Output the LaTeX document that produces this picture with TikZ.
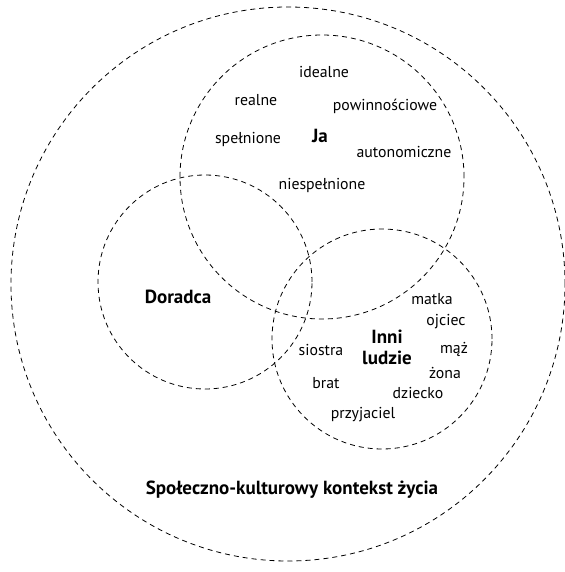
\documentclass[tikz,border=0pt]{standalone}
\usepackage{fontspec}
\setmainfont{PT Sans}
\usepackage{tikz}
\usetikzlibrary{positioning}

\tikzset{
  ring/.style={dashed, dash pattern=on 5pt off 4pt, line width=0.8pt},
  word/.style={font=\fontsize{15.8}{18}\selectfont, inner sep=0pt},
  title/.style={font=\fontsize{19}{21}\selectfont\bfseries, inner sep=0pt, align=center}
}

\begin{document}
\begin{tikzpicture}[x=1pt, y=-1pt]
  \useasboundingbox (0,0) rectangle (564,572);
  % circles
  \draw [ring] (288,284) circle [radius=277pt];
  \draw [ring] (322,177) circle [radius=142pt];
  \draw [ring] (205,282) circle [radius=107pt];
  \draw [ring] (382,339) circle [radius=110pt];
  % Ja
  \node (ja) at (320,136) [title] {Ja};
  \node (idealne) at (324,72) [word] {idealne};
  \node (realne) at (256,100) [word] {realne};
  \node (powin) at (385,106) [word] {powinnościowe};
  \node (spel) at (248,139) [word] {spełnione};
  \node (auto) at (404,152) [word] {autonomiczne};
  \node (niespel) at (322,185) [word] {niespełnione};
  % Doradca
  \node (doradca) at (178,297) [title] {Doradca};
  % Inni ludzie
  \node (inni) at (387,347) [title] {Inni\\ludzie};
  \node (matka) at (432,299) [word] {matka};
  \node (ojciec) at (446,322) [word] {ojciec};
  \node (maz) at (454,349) [word] {mąż};
  \node (zona) at (445,373) [word] {żona};
  \node (dziecko) at (418,393) [word] {dziecko};
  \node (przyj) at (363,415) [word] {przyjaciel};
  \node (siostra) at (321,350) [word] {siostra};
  \node (brat) at (326,383) [word] {brat};
  % kontekst
  \node (kontekst) at (292,490) [title] {Społeczno-kulturowy kontekst życia};
\end{tikzpicture}
\end{document}
